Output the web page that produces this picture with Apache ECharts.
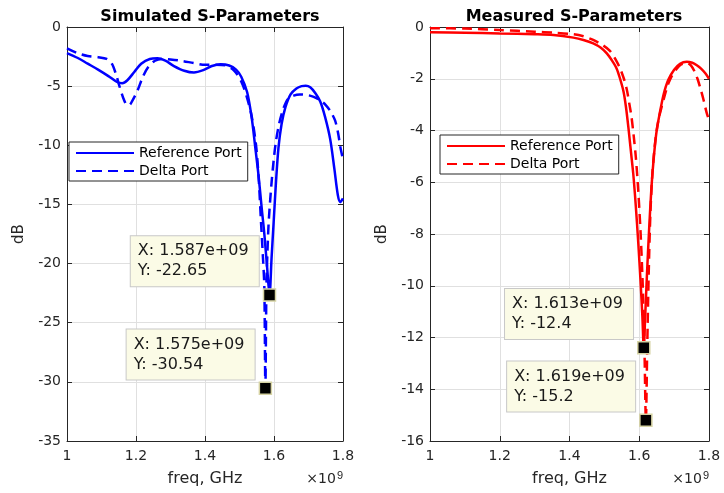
<!DOCTYPE html>
<html>
<head>
<meta charset="utf-8">
<script src="https://cdn.jsdelivr.net/npm/echarts@6/dist/echarts.min.js"></script>
<style>
  html, body { margin: 0; background: #fff; }
  #chart { width: 724px; height: 493px; }
</style>
</head>
<body>
<div id="chart"></div>
<script>
// frequencies in GHz (axis shows x 10^9), magnitudes in dB

// simulated - reference port (solid)
const simRefFreq = [1.000, 1.030, 1.060, 1.090, 1.120, 1.145, 1.160, 1.175, 1.195, 1.215, 1.240, 1.262, 1.285, 1.310, 1.340, 1.368, 1.395, 1.420, 1.445, 1.470, 1.490, 1.505, 1.522, 1.535, 1.545, 1.555, 1.565, 1.572, 1.580, 1.587, 1.593, 1.599, 1.606, 1.613, 1.622, 1.633, 1.648, 1.665, 1.680, 1.692, 1.705, 1.720, 1.734, 1.748, 1.763, 1.775, 1.785, 1.792, 1.800];
const simRefDb = [-2.2, -2.6, -3.1, -3.6, -4.15, -4.65, -4.75, -4.5, -3.8, -3.1, -2.7, -2.65, -2.85, -3.3, -3.7, -3.85, -3.65, -3.3, -3.15, -3.25, -3.6, -4.2, -5.5, -7.6, -10, -12.5, -15.5, -17.5, -20.3, -22.65, -19.5, -16.5, -13, -10.2, -8.2, -6.8, -5.7, -5.2, -5.0, -4.97, -5.1, -5.6, -6.3, -7.6, -9.5, -12.0, -14.2, -14.8, -14.5];

// simulated - delta port (dashed)
const simDeltaFreq = [1.000, 1.030, 1.060, 1.090, 1.115, 1.130, 1.142, 1.152, 1.163, 1.172, 1.180, 1.190, 1.204, 1.220, 1.235, 1.255, 1.275, 1.300, 1.330, 1.368, 1.400, 1.430, 1.460, 1.485, 1.505, 1.520, 1.535, 1.548, 1.556, 1.562, 1.568, 1.572, 1.575, 1.578, 1.581, 1.585, 1.594, 1.604, 1.614, 1.626, 1.640, 1.657, 1.675, 1.696, 1.715, 1.734, 1.750, 1.763, 1.777, 1.786, 1.792, 1.800];
const simDeltaDb = [-1.8, -2.2, -2.45, -2.55, -2.7, -3.1, -4.0, -5.0, -6.0, -6.55, -6.6, -6.2, -5.4, -4.2, -3.4, -2.85, -2.7, -2.75, -2.85, -3.05, -3.2, -3.2, -3.25, -3.7, -4.6, -5.8, -7.5, -10, -13, -16.3, -19.5, -22, -30.54, -22, -19, -16.3, -12.8, -10, -8.3, -7.0, -6.1, -5.8, -5.7, -5.75, -5.9, -6.2, -6.6, -7.1, -7.9, -9.0, -10.1, -11.2];

// measured - reference port (solid)
const measRefFreq = [1.000, 1.100, 1.200, 1.300, 1.354, 1.411, 1.440, 1.468, 1.490, 1.507, 1.522, 1.535, 1.545, 1.555, 1.562, 1.569, 1.576, 1.583, 1.590, 1.597, 1.604, 1.609, 1.613, 1.617, 1.622, 1.628, 1.635, 1.642, 1.650, 1.660, 1.670, 1.683, 1.700, 1.717, 1.736, 1.752, 1.765, 1.778, 1.790, 1.800];
const measRefDb = [-0.2, -0.22, -0.25, -0.28, -0.31, -0.41, -0.5, -0.63, -0.8, -1.02, -1.3, -1.6, -2.0, -2.5, -3.1, -3.9, -4.8, -5.7, -6.9, -8.3, -9.9, -11.2, -12.4, -11.2, -9.6, -7.9, -6.2, -5.0, -4.0, -3.25, -2.6, -2.05, -1.65, -1.42, -1.34, -1.38, -1.48, -1.62, -1.8, -2.0];

// measured - delta port (dashed)
const measDeltaFreq = [1.000, 1.100, 1.200, 1.300, 1.354, 1.411, 1.440, 1.468, 1.495, 1.516, 1.532, 1.545, 1.556, 1.564, 1.572, 1.578, 1.584, 1.590, 1.597, 1.604, 1.610, 1.615, 1.619, 1.623, 1.627, 1.632, 1.638, 1.646, 1.655, 1.664, 1.674, 1.683, 1.695, 1.707, 1.720, 1.736, 1.748, 1.758, 1.767, 1.776, 1.785, 1.793, 1.800];
const measDeltaDb = [-0.05, -0.06, -0.12, -0.18, -0.22, -0.28, -0.36, -0.5, -0.7, -0.92, -1.25, -1.6, -2.0, -2.4, -3.0, -3.5, -4.2, -5.0, -6.3, -8.0, -10.0, -12.5, -15.2, -12.3, -9.6, -7.2, -5.6, -4.4, -3.6, -3.1, -2.6, -2.2, -1.85, -1.62, -1.45, -1.38, -1.48, -1.7, -2.0, -2.4, -2.85, -3.3, -3.6];

// data tips [freq GHz, dB]
const simTips = [[1.587, -22.65], [1.575, -30.54]];
const measTips = [[1.613, -12.4], [1.619, -15.2]];

const titles = ['Simulated S-Parameters', 'Measured S-Parameters'];
const legendNames = ['Reference Port', 'Delta Port'];
const xRange = [1, 1.8, 0.2];
const simYRange = [-35, 0, 5];
const measYRange = [-16, 0, 2];

const FONT = 'DejaVu Sans';
const INK = '#262626';
const GRIDLINE = '#e0e0e0';
const TIP_W = 114; // text width inside a data tip box
const TIP_PAD = [5, 7, 5, 7];

const zip = (xs, ys) => xs.map((x, i) => [x, ys[i]]);

const grids = [
  { left: 67, top: 27, width: 276, height: 414 },
  { left: 430, top: 27, width: 279, height: 414 }
];

function xAxes(gi) {
  const base = { type: 'value', gridIndex: gi, min: xRange[0], max: xRange[1], interval: xRange[2] };
  return [
    Object.assign({}, base, {
      position: 'bottom',
      name: 'freq, GHz', nameLocation: 'middle', nameGap: 30,
      nameTextStyle: { fontFamily: FONT, fontSize: 16, color: INK },
      axisLine: { show: true, onZero: false, lineStyle: { color: INK, width: 1 } },
      axisTick: { inside: true, length: 5, lineStyle: { color: INK } },
      axisLabel: { fontFamily: FONT, fontSize: 14, color: INK, margin: 8 },
      splitLine: { show: true, lineStyle: { color: GRIDLINE, width: 1 } }
    }),
    Object.assign({}, base, {
      position: 'top',
      axisLine: { show: true, onZero: false, lineStyle: { color: INK, width: 1 } },
      axisTick: { inside: true, length: 5, lineStyle: { color: INK } },
      axisLabel: { show: false },
      splitLine: { show: false }
    })
  ];
}

function yAxes(gi, r) {
  const base = { type: 'value', gridIndex: gi, min: r[0], max: r[1], interval: r[2] };
  return [
    Object.assign({}, base, {
      position: 'left',
      name: 'dB', nameLocation: 'middle', nameGap: 40,
      nameTextStyle: { fontFamily: FONT, fontSize: 15, color: INK },
      axisLine: { show: true, onZero: false, lineStyle: { color: INK, width: 1 } },
      axisTick: { inside: true, length: 5, lineStyle: { color: INK } },
      axisLabel: { fontFamily: FONT, fontSize: 14, color: INK, margin: 6 },
      splitLine: { show: true, lineStyle: { color: GRIDLINE, width: 1 } }
    }),
    Object.assign({}, base, {
      position: 'right',
      axisLine: { show: true, onZero: false, lineStyle: { color: INK, width: 1 } },
      axisTick: { inside: true, length: 5, lineStyle: { color: INK } },
      axisLabel: { show: false },
      splitLine: { show: false }
    })
  ];
}

function tipPoints(tips) {
  const boxW = TIP_W + TIP_PAD[1] + TIP_PAD[3];
  return {
    symbol: 'rect',
    symbolSize: 12,
    itemStyle: { color: '#000', borderColor: '#d6d3a4', borderWidth: 1.5 },
    label: {
      show: true,
      // box sits up-left of the marker, text left aligned inside it
      position: [-4 - boxW, -2],
      align: 'left',
      verticalAlign: 'bottom',
      width: TIP_W,
      overflow: 'none',
      fontFamily: FONT,
      fontSize: 16,
      lineHeight: 20,
      color: '#1a1a1a',
      backgroundColor: '#fbfbe6',
      borderColor: '#c8c8c8',
      borderWidth: 1,
      padding: TIP_PAD
    },
    data: tips.map(t => ({
      coord: t,
      label: { formatter: 'X: ' + t[0].toFixed(3) + 'e+09\nY: ' + t[1] }
    }))
  };
}

function lineSeries(name, tag, xs, ys, color, dashed, xi, yi, tips) {
  const s = {
    name: name + '#' + tag,
    type: 'line',
    xAxisIndex: xi,
    yAxisIndex: yi,
    data: zip(xs, ys),
    symbol: 'none',
    smooth: 0.3,
    lineStyle: { color: color, width: 2.5, type: dashed ? [10, 6] : 'solid' },
    itemStyle: { color: color }
  };
  if (tips) s.markPoint = tipPoints(tips);
  return s;
}

function legend(tag, left, top) {
  return {
    orient: 'vertical',
    left: left, top: top,
    data: legendNames.map(n => n + '#' + tag),
    formatter: n => n.split('#')[0],
    itemWidth: 58, itemHeight: 14, itemGap: 4,
    padding: [4, 6, 3, 6],
    borderColor: INK, borderWidth: 1, borderRadius: 0,
    backgroundColor: '#fff',
    selectedMode: false,
    itemStyle: { opacity: 0 },
    textStyle: { fontFamily: FONT, fontSize: 14, color: '#000' }
  };
}

const chart = echarts.init(document.getElementById('chart'));
chart.setOption({
  animation: false,
  backgroundColor: '#fff',
  textStyle: { fontFamily: FONT },
  title: [
    { text: titles[0], left: 205, top: 4, textAlign: 'center',
      textStyle: { fontFamily: FONT, fontSize: 16, fontWeight: 'bold', color: '#000' } },
    { text: titles[1], left: 569, top: 4, textAlign: 'center',
      textStyle: { fontFamily: FONT, fontSize: 16, fontWeight: 'bold', color: '#000' } }
  ],
  grid: grids,
  xAxis: xAxes(0).concat(xAxes(1)),
  yAxis: yAxes(0, simYRange).concat(yAxes(1, measYRange)),
  legend: [legend('sim', 69, 142), legend('meas', 440, 135)],
  series: [
    lineSeries(legendNames[0], 'sim', simRefFreq, simRefDb, '#0000ff', false, 0, 0, [simTips[0]]),
    lineSeries(legendNames[1], 'sim', simDeltaFreq, simDeltaDb, '#0000ff', true, 0, 0, [simTips[1]]),
    lineSeries(legendNames[0], 'meas', measRefFreq, measRefDb, '#ff0000', false, 2, 2, [measTips[0]]),
    lineSeries(legendNames[1], 'meas', measDeltaFreq, measDeltaDb, '#ff0000', true, 2, 2, [measTips[1]])
  ],
  graphic: [
    { type: 'text', right: 724 - 343, top: 470,
      style: { text: '×10{s|9}', font: '14px "DejaVu Sans"', fill: INK,
        rich: { s: { fontSize: 11, verticalAlign: 'top', padding: [0, 0, 8, 1] } } } },
    { type: 'text', right: 724 - 709, top: 470,
      style: { text: '×10{s|9}', font: '14px "DejaVu Sans"', fill: INK,
        rich: { s: { fontSize: 11, verticalAlign: 'top', padding: [0, 0, 8, 1] } } } }
  ]
});
</script>
</body>
</html>
